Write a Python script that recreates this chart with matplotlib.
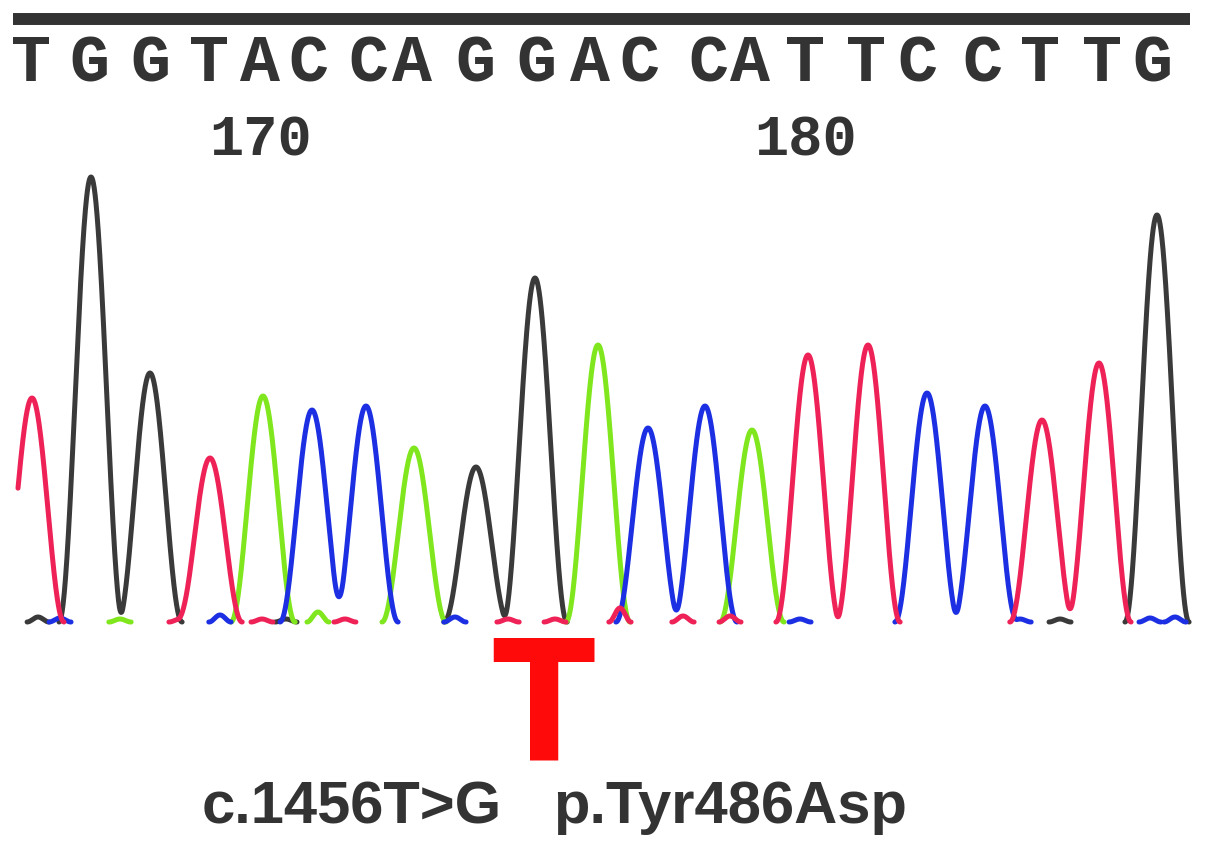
import numpy as np
import matplotlib
matplotlib.use('Agg')
import matplotlib.pyplot as plt
from matplotlib import font_manager
from matplotlib.transforms import blended_transform_factory

# base calls and their positions (scan units)
bases = list("TGGTACCAGGACCATTCCTTG")
call_x = [31, 89, 150, 209, 260, 308, 368, 412, 475, 536, 590,
          639, 708, 750, 805, 866, 917, 982, 1040, 1102, 1152]
first_number = 166

# main peaks: one per base call
peak_x = [32, 91, 150, 210, 263, 312, 366, 414, 476, 535, 598,
          648, 705, 752, 808, 868, 927, 985, 1042, 1099, 1157]
peak_h = [224, 445, 249, 164, 226, 212, 216, 174, 155, 344, 277,
          194, 216, 192, 267, 277, 229, 216, 202, 259, 407]

# small background peaks near baseline
minor_base = ['G', 'C', 'A', 'T', 'C', 'T', 'G', 'A', 'T', 'C', 'T',
              'T', 'T', 'T', 'T', 'C', 'C', 'G', 'C', 'C']
minor_x = [38, 60, 120, 180, 220, 262, 286, 318, 345, 455, 508,
           555, 620, 683, 730, 800, 1020, 1060, 1150, 1175]
minor_h = [5, 4, 3, 3, 7, 3, 3, 10, 3, 5, 3,
           3, 14, 6, 6, 3, 3, 3, 4, 5]

mutation_idx = 9
wt_base = 'T'
mutation_text = ["c.1456T>G", "p.Tyr486Asp"]

colors = {'G': '#3a3a3a', 'A': '#80e61e', 'C': '#1c2fe2', 'T': '#ee2257'}


def find_narrow():
    for f in font_manager.fontManager.ttflist:
        n = f.fname.lower()
        if ('narrow' in n or 'condensed' in n) and 'bold' in n and 'italic' not in n \
                and 'oblique' not in n and 'semi' not in n and 'extra' not in n:
            return font_manager.FontProperties(fname=f.fname)
    return font_manager.FontProperties(family='Liberation Sans', weight='bold')


def peak(x, c, h, w):
    d = np.clip((x - c) / w, -1, 1)
    return h * np.cos(d * np.pi / 2) ** 2


fig = plt.figure(figsize=(12.05, 8.49), dpi=100)
ax = fig.add_axes([0, 0, 1, 1])
ax.set_xlim(0, 1205)
ax.set_ylim(-227, 622)
ax.axis('off')

xs = np.linspace(18, 1190, 4000)
for ch in ['G', 'A', 'C', 'T']:
    y = np.zeros_like(xs)
    for b, c, h in zip(bases, peak_x, peak_h):
        if b == ch:
            y += peak(xs, c, h, 32)
    for b, c, h in zip(minor_base, minor_x, minor_h):
        if b == ch:
            y += peak(xs, c, h, 11)
    on = y > 1e-3
    on = on | np.roll(on, 1) | np.roll(on, -1)
    y = np.where(on, y, np.nan)
    ax.plot(xs, y, color=colors[ch], lw=3.6, solid_capstyle='round',
            solid_joinstyle='round')

# header: bar, sequence, numbering
tr = blended_transform_factory(ax.transData, ax.transAxes)
H = 849.0
ax.plot([13, 1190], [1 - 19 / H, 1 - 19 / H], transform=tr, color='#333333',
        lw=8.6, solid_capstyle='butt')
for i, (b, x) in enumerate(zip(bases, call_x)):
    ax.text(x, 1 - 81 / H, b, transform=tr, ha='center', va='baseline',
            family='Liberation Mono', weight='bold', fontsize=48, color='#333333')
    if (first_number + i) % 10 == 0:
        ax.text(x + 1, 1 - 155 / H, str(first_number + i), transform=tr,
                ha='center', va='baseline', family='Liberation Mono',
                weight='bold', fontsize=41, color='#333333')

# mutation marker
tp = find_narrow()
tp.set_size(120)
ax.text(peak_x[mutation_idx] + 8, 1 - 760 / H, wt_base, transform=tr,
        ha='center', va='baseline', fontproperties=tp, color='#ff0a0a')
ax.text(202, 1 - 823 / H, mutation_text[0], transform=tr, ha='left',
        va='baseline', family='Liberation Sans', weight='bold',
        fontsize=43, color='#333333')
ax.text(553, 1 - 823 / H, mutation_text[1], transform=tr, ha='left',
        va='baseline', family='Liberation Sans', weight='bold',
        fontsize=43, color='#333333')

fig.savefig('out.png', dpi=100)
